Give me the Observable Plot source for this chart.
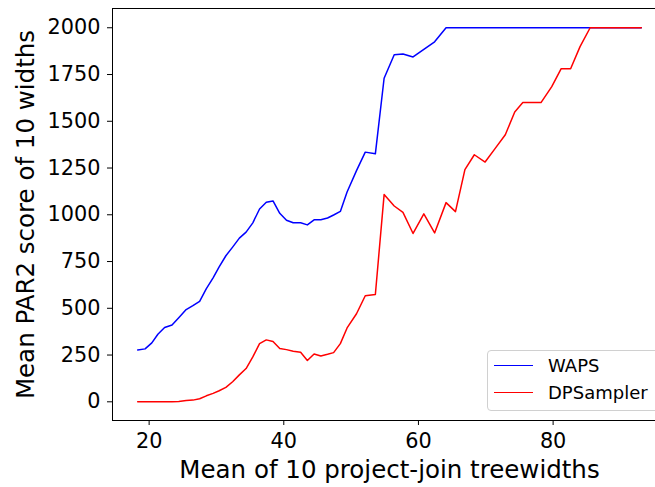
<!DOCTYPE html>
<html>
<head>
<meta charset="utf-8">
<script src="https://cdn.jsdelivr.net/npm/d3@7"></script>
<script src="https://cdn.jsdelivr.net/npm/@observablehq/plot@0.6"></script>
<style>
html, body { margin: 0; padding: 0; overflow: hidden; background: #fff; }
#wrap { position: relative; width: 655px; height: 487px; overflow: hidden; }
#chart svg { max-width: none !important; display: block; }
#legend { position: absolute; left: 487px; top: 350px; width: 190px; height: 61px; box-sizing: border-box;
  border: 1px solid #d0d0d0; border-radius: 4px; background: rgba(255,255,255,0.8);
  font-family: "DejaVu Sans", sans-serif; font-size: 18px; color: #000; }
.sw { position: absolute; left: 6px; width: 39px; height: 0; border-top: 1.5px solid; }
.lab { position: absolute; left: 60px; line-height: 20px; }
</style>
</head>
<body>
<div id="wrap">
  <div id="chart"></div>
  <div id="legend"></div>
</div>
<script>
const treewidth = [18.3, 19.4, 20.4, 21.3, 22.3, 23.4, 24.4, 25.5, 26.5, 27.5, 28.5, 29.5, 30.4, 31.4, 32.4, 33.4, 34.4, 35.4, 36.4, 37.4, 38.4, 39.4, 40.4, 41.4, 42.5, 43.5, 44.5, 45.5, 46.5, 47.4, 48.4, 49.4, 50.8, 52.1, 53.6, 54.9, 56.4, 57.7, 59.2, 60.8, 62.4, 64.1, 65.5, 66.9, 68.3, 69.9, 71.4, 72.9, 74.3, 75.5, 76.9, 78.2, 79.8, 81.2, 82.6, 84.0, 85.5, 93.1];
const waps = [277, 283, 315, 361, 397, 411, 450, 493, 514, 537, 605, 663, 722, 781, 827, 875, 907, 957, 1031, 1067, 1074, 1008, 971, 957, 957, 946, 973, 973, 983, 999, 1018, 1122, 1236, 1335, 1326, 1730, 1856, 1860, 1844, 1885, 1925, 2000, 2000, 2000, 2000, 2000, 2000, 2000, 2000, 2000, 2000, 2000, 2000, 2000, 2000, 2000, 2000, 2000];
const dpsampler = [0, 0, 0, 0, 0, 0, 2, 7, 9, 16, 32, 45, 59, 77, 107, 144, 178, 240, 311, 331, 322, 285, 279, 270, 265, 221, 256, 245, 254, 263, 311, 395, 471, 567, 574, 1108, 1047, 1013, 900, 1005, 903, 1065, 1017, 1241, 1321, 1282, 1355, 1428, 1550, 1600, 1600, 1600, 1685, 1781, 1781, 1899, 2000, 2000];
const seriesNames = ["WAPS", "DPSampler"];
const seriesColors = ["#0000ff", "#ff0000"];
const xTicks = [20, 40, 60, 80];
const yTicks = [0, 250, 500, 750, 1000, 1250, 1500, 1750, 2000];

const wapsData = treewidth.map((x, i) => ({x, y: waps[i]}));
const dpsData = treewidth.map((x, i) => ({x, y: dpsampler[i]}));

const chart = Plot.plot({
  width: 680,
  height: 487,
  marginLeft: 112,
  marginRight: 14,
  marginTop: 8,
  marginBottom: 67,
  style: {fontFamily: "DejaVu Sans, sans-serif", color: "#000", background: "#fff", maxWidth: "none"},
  x: {domain: [14.56, 96.84]},
  y: {domain: [-100, 2103]},
  marks: [
    Plot.frame({stroke: "#000", strokeWidth: 1}),
    Plot.line(wapsData, {x: "x", y: "y", stroke: seriesColors[0], strokeWidth: 1.5}),
    Plot.line(dpsData, {x: "x", y: "y", stroke: seriesColors[1], strokeWidth: 1.5}),
    Plot.axisX({ticks: xTicks, tickFormat: d3.format("d"), tickSize: 5, tickPadding: 8, fontSize: 20.8, stroke: "#000", label: null}),
    Plot.axisX({ticks: [], fontSize: 24.5, label: "Mean of 10 project-join treewidths", labelAnchor: "center", labelArrow: "none", labelOffset: 57}),
    Plot.axisY({ticks: yTicks, tickFormat: d3.format("d"), tickSize: 5, tickPadding: 7, fontSize: 20.8, stroke: "#000", label: null}),
    Plot.axisY({ticks: [], fontSize: 24.5, label: "Mean PAR2 score of 10 widths", labelAnchor: "center", labelArrow: "none", labelOffset: 96})
  ]
});
document.getElementById("chart").appendChild(chart);

const legend = document.getElementById("legend");
seriesNames.forEach((name, i) => {
  const cy = i === 0 ? 15 : 42;
  const sw = document.createElement("div");
  sw.className = "sw";
  sw.style.top = (cy - 0.75) + "px";
  sw.style.borderColor = seriesColors[i];
  legend.appendChild(sw);
  const lab = document.createElement("div");
  lab.className = "lab";
  lab.style.top = (cy - 10) + "px";
  lab.textContent = name;
  legend.appendChild(lab);
});
</script>
</body>
</html>
